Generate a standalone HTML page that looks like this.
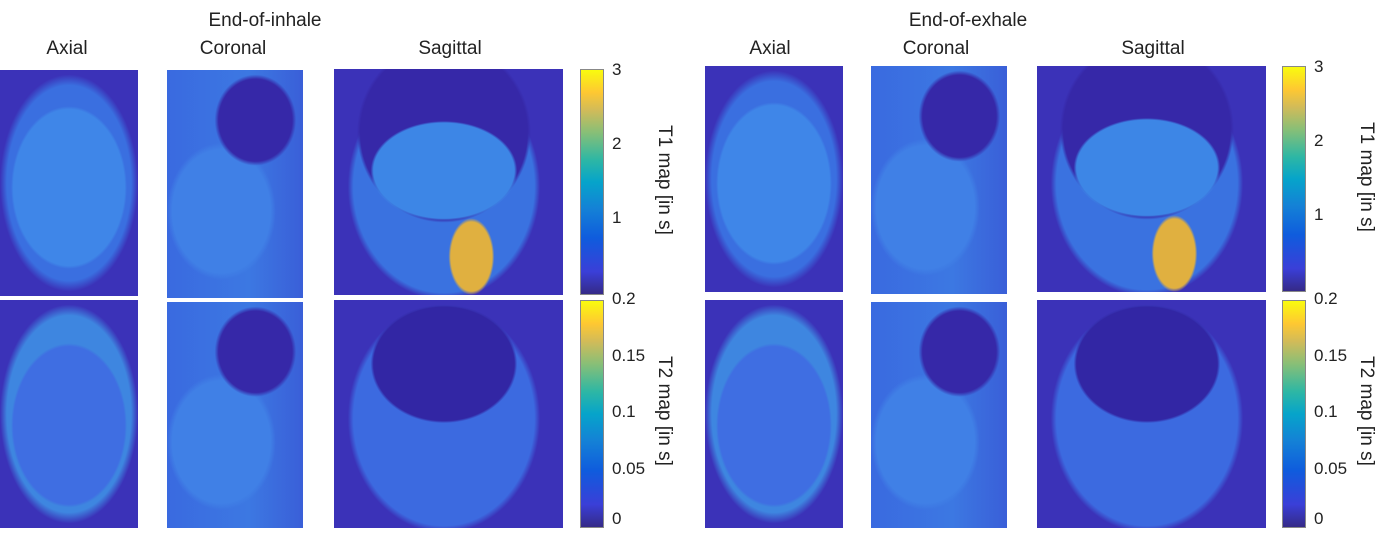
<!DOCTYPE html>
<html><head><meta charset="utf-8"><style>
body{margin:0;width:1385px;height:537px;background:#fff;position:relative;overflow:hidden;font-family:"Liberation Sans",sans-serif;color:#222}
.t{position:absolute;font-size:19px;white-space:nowrap;transform:translateX(-50%)}
.p{position:absolute;background:#3b32b8}
.cb{position:absolute;width:22px;border:1px solid #888;background:linear-gradient(to top,#352a87,#3a3fd8 10%,#0f5cdd 25%,#1481d6 38%,#06a4ca 50%,#2eb7a4 60%,#87bf77 72%,#d1bb59 82%,#fec832 90%,#f9fb0e)}
.tk{position:absolute;font-size:17px}
.yl{position:absolute;font-size:19px;transform:rotate(90deg);transform-origin:center;white-space:nowrap}
</style></head><body>
<script>
const groupOffsets=[0,703];
const groupTitles=["End-of-inhale","End-of-exhale"];
const t1Ticks=[3,2,1];
const t1Labels=["3","2","1"];
const t2Ticks=[0.2,0.15,0.1,0.05,0];
const t2Labels=["0.2","0.15","0.1","0.05","0"];
const t1Max=3.03, t1Min=0, t2Max=0.2, t2Min=0;
const root=document.body;
function mk(cls,style,txt,name){const d=document.createElement('div');d.className=cls;d.style.cssText=style;if(txt!==undefined)d.textContent=txt;


root.appendChild(d);return d;}
const bodyBg="radial-gradient(ellipse 42% 36% at 50% 52%,#3f86e8 0 96%,transparent 100%),radial-gradient(ellipse 48% 46% at 50% 50%,#e8d040 0 3%,transparent 6%),radial-gradient(ellipse 50% 48% at 50% 50%,#3a6fe0 0 90%,transparent 100%),#3b32b8";
const sagBg="radial-gradient(ellipse 32% 22% at 48% 45%,#3d86e6 0 96%,transparent 100%),radial-gradient(ellipse 38% 40% at 48% 28%,#3628a8 0 96%,transparent 100%),radial-gradient(ellipse 10% 17% at 60% 83%,#e0b040 0 90%,transparent 100%),radial-gradient(ellipse 40% 50% at 48% 52%,#d6c050 0 4%,transparent 7%),radial-gradient(ellipse 42% 50% at 48% 52%,#3a72e0 0 94%,transparent 100%),#3b32b8";
const corBg="radial-gradient(ellipse 30% 20% at 65% 22%,#3628a8 0 90%,transparent 100%),radial-gradient(ellipse 40% 30% at 40% 62%,#4080e6 0 90%,transparent 100%),linear-gradient(90deg,#3a6ae0,#3c78e2 60%,#3a5fd8)";
const t2Body="radial-gradient(ellipse 42% 36% at 50% 55%,#3f6ee2 0 96%,transparent 100%),radial-gradient(ellipse 50% 48% at 50% 50%,#3e86e0 0 90%,transparent 100%),#3b32b8";
const t2Sag="radial-gradient(ellipse 32% 26% at 48% 28%,#3226a4 0 96%,transparent 100%),radial-gradient(ellipse 42% 50% at 48% 52%,#3c6ae0 0 94%,transparent 100%),#3b32b8";
groupOffsets.forEach((o,g)=>{
 mk('t',`left:${265+o}px;top:10px`,groupTitles[g],'group-title');
 mk('t',`left:${67+o}px;top:38px`,'Axial','axial-label');
 mk('t',`left:${233+o}px;top:38px`,'Coronal','coronal-label');
 mk('t',`left:${450+o}px;top:38px`,'Sagittal','sagittal-label');
 const yt=g?66:70;
 mk('p',`left:${o+(g?2:0)}px;top:${yt}px;width:138px;height:226px;background:${bodyBg}`,undefined,'t1-axial-image');
 mk('p',`left:${167+o+(g?1:0)}px;top:${yt}px;width:136px;height:228px;background:${corBg}`,undefined,'t1-coronal-image');
 mk('p',`left:${334+o}px;top:${g?66:69}px;width:229px;height:226px;background:${sagBg}`,undefined,'t1-sagittal-image');
 mk('p',`left:${o+(g?2:0)}px;top:300px;width:138px;height:228px;background:${t2Body}`,undefined,'t2-axial-image');
 mk('p',`left:${167+o+(g?1:0)}px;top:302px;width:136px;height:226px;background:${corBg}`,undefined,'t2-coronal-image');
 mk('p',`left:${334+o}px;top:300px;width:229px;height:228px;background:${t2Sag}`,undefined,'t2-sagittal-image');
 const cx=580+o-(g?1:0);
 const c1top=g?66:69,c1h=224,c2top=300,c2h=226;
 mk('cb',`left:${cx}px;top:${c1top}px;height:${c1h}px`,undefined,'t1-colorbar');
 mk('cb',`left:${cx}px;top:${c2top}px;height:${c2h}px`,undefined,'t2-colorbar');
 t1Ticks.forEach((v,i)=>{const y=c1top+(t1Max-v)/(t1Max-t1Min)*c1h;
  mk('tk',`left:${cx+32}px;top:${y-11}px`,t1Labels[i],'t1-tick-label');});
 t2Ticks.forEach((v,i)=>{const y=c2top+(t2Max-v)/(t2Max-t2Min)*c2h;
  mk('tk',`left:${cx+32}px;top:${Math.min(y-11,c2top+c2h-17)}px`,t2Labels[i],'t2-tick-label');});
 mk('yl',`left:${cx+24}px;top:${c1top+100}px;width:120px;text-align:center`,'T1 map [in s]','t1-axis-title');
 mk('yl',`left:${cx+24}px;top:${c2top+100}px;width:120px;text-align:center`,'T2 map [in s]','t2-axis-title');
});
</script>
</body></html>
